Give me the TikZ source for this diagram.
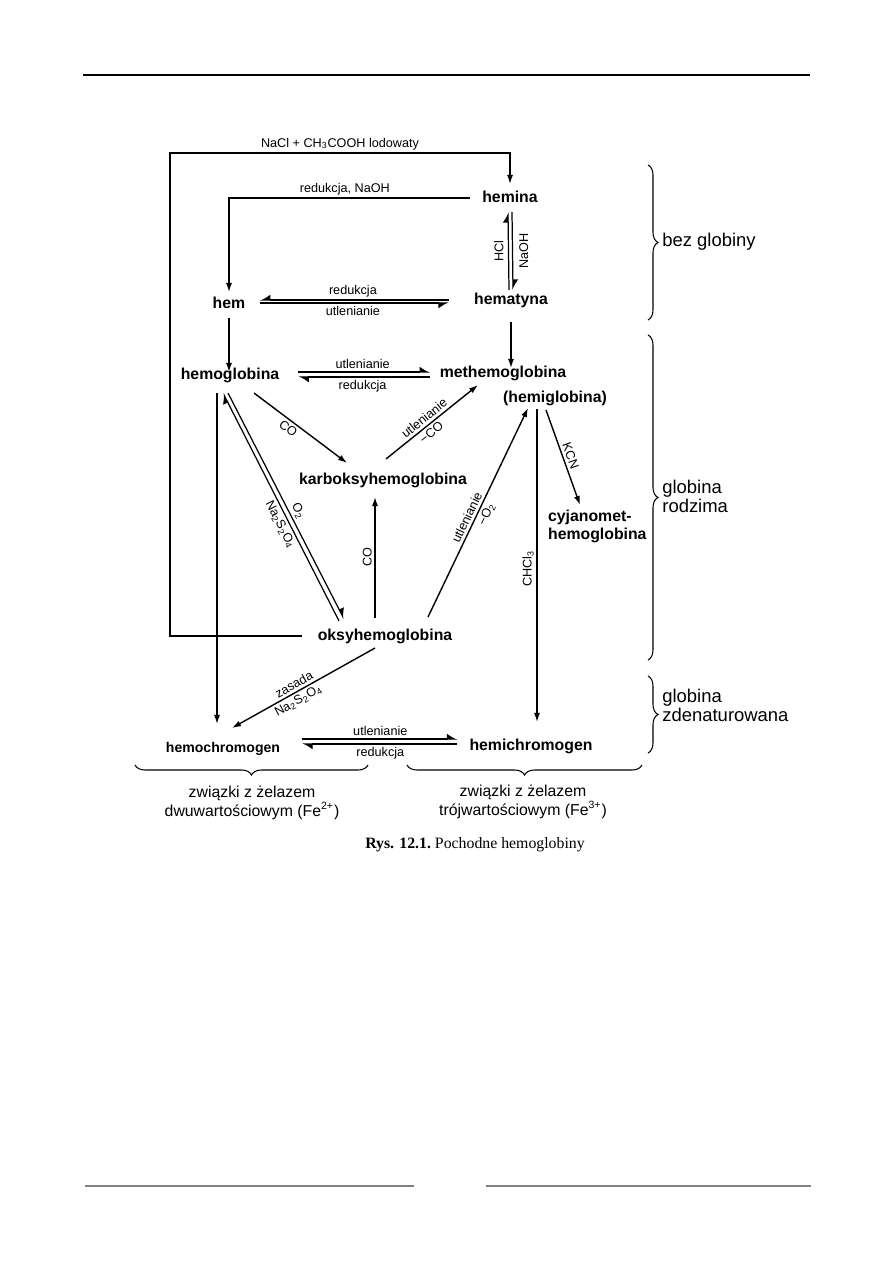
\documentclass[tikz,border=0pt]{standalone}
\usepackage{fontspec}
\setmainfont{Liberation Sans}
\newfontfamily\captionserif{Liberation Serif}
\usetikzlibrary{arrows.meta, decorations.pathreplacing}

\begin{document}
\begin{tikzpicture}[
  x=0.02cm, y=-0.02cm,
  every node/.style={font=\fontsize{7.2}{8}\selectfont},
  chem/.style={font=\fontsize{9}{10}\selectfont\bfseries, inner sep=1pt, text height=7pt, text depth=2pt},
  chemtwo/.style={font=\fontsize{9}{10.2}\selectfont\bfseries, inner sep=1pt, align=left},
  lab/.style={inner sep=1.5pt},
  grouplab/.style={font=\fontsize{10.5}{8}\selectfont, align=left, anchor=west, inner sep=0pt},
  bottomlab/.style={font=\fontsize{9}{9.6}\selectfont, align=center, inner sep=0pt},
  arrow/.style={-{Latex[length=1.8mm, width=1.2mm]}, line width=0.8pt},
  harp/.style={-{Latex[harpoon, length=1.8mm, width=2.2mm]}, line width=0.7pt},
  harpsw/.style={-{Latex[harpoon, swap, length=1.8mm, width=2.2mm]}, line width=0.7pt},
  bracedown/.style={decorate, decoration={brace, mirror, amplitude=2mm}, line width=0.6pt},
  braceright/.style={decorate, decoration={brace, amplitude=2mm}, line width=0.6pt}
]
  \useasboundingbox (0,0) rectangle (893,1263);

  % page rules
  \draw[line width=0.7pt] (83,75) -- (810,75);
  \draw[gray, line width=0.6pt] (85,1186) -- (414,1186);
  \draw[gray, line width=0.6pt] (486,1186) -- (811,1186);

  % without globin
  \node[chem] (hemina) at (510,198) {hemina};
  \node[chem] (hem) at (229,304) {hem};
  \node[chem] (hematyna) at (511,300) {hematyna};

  % native globin
  \node[chem] (hemoglobina) at (230,375) {hemoglobina};
  \node[chem] (methemo) at (503,373) {methemoglobina};
  \node[chem] (hemiglobina) at (555,398) {(hemiglobina)};
  \node[chem] (karboksy) at (383,480) {karboksyhemoglobina};
  \node[chem] (oksy) at (385,636) {oksyhemoglobina};
  \node[chemtwo, anchor=north west] (cyjano) at (546,508) {cyjanomet-\\hemoglobina};

  % denatured globin
  \node[chem, font=\fontsize{8}{9}\selectfont\bfseries] (hemochrom) at (223,748) {hemochromogen};
  \node[chem] (hemichrom) at (531,746) {hemichromogen};

  % Outer loop
  \coordinate (loopcorner) at (170,153);
  \draw[arrow] ([shift={(-14,0)}]oksy.west) -| (loopcorner) -| node[pos=0.25, above, lab] {NaCl + CH\textsubscript{3}COOH lodowaty} ([shift={(0,-4)}]hemina.north);

  % hemina -> hem
  \draw[arrow] ([shift={(-10,0)}]hemina.west) -| node[pos=0.26, above, lab] {redukcja, NaOH} ([shift={(0,-2)}]hem.north);

  % hemina <-> hematyna
  \draw[harp] ([shift={(-2,0)}]hematyna.north) -- node[midway, anchor=south, rotate=90, lab, inner sep=2.5pt] {HCl} ([shift={(-2,4)}]hemina.south);
  \draw[harp] ([shift={(2,4)}]hemina.south) -- node[midway, anchor=north, rotate=90, lab, inner sep=3.5pt] {NaOH} ([shift={(2,0)}]hematyna.north);

  % hem <-> hematyna
  \draw[harpsw, shorten <=4.6mm, shorten >=2.5mm] (hematyna.west) -- node[pos=0.53, above, lab] {redukcja} ([shift={(0,-4)}]hem.east);
  \draw[harpsw, shorten <=2.5mm, shorten >=4.6mm] ([shift={(0,-1)}]hem.east) -- node[pos=0.47, below, lab] {utlenianie} ([shift={(0,3)}]hematyna.west);

  % down to the globin level
  \draw[arrow, shorten <=2.4mm, shorten >=-1mm] (hematyna.south) -- (hematyna.south |- methemo.north);
  \draw[arrow, shorten <=0.8mm, shorten >=-1.4mm] (hem.south) -- (hem.south |- hemoglobina.north);

  % hemoglobina <-> methemoglobina
  \draw[harp, shorten <=3.4mm, shorten >=1.5mm] ([shift={(0,-3)}]hemoglobina.east) -- node[pos=0.52, above, lab] {utlenianie} ([shift={(0,-1)}]methemo.west);
  \draw[harp, shorten <=1.5mm, shorten >=3.4mm] ([shift={(0,4)}]methemo.west) -- node[pos=0.48, below, lab] {redukcja} ([shift={(0,2)}]hemoglobina.east);

  % carbon monoxide
  \draw[arrow] ([shift={(24,8)}]hemoglobina.south) -- node[pos=0.42, sloped, below, lab] {CO} ([shift={(-36,-7)}]karboksy.north);
  \draw[arrow] ([shift={(3,-11)}]karboksy.north) -- node[pos=0.47, sloped, above, lab] {utlenianie} node[pos=0.44, sloped, below, lab] {−CO} ([shift={(-25,2)}]methemo.south);
  \draw[arrow] ([shift={(-10,-8)}]oksy.north) -- node[midway, anchor=south, rotate=90, lab] {CO} ([shift={(-8,7)}]karboksy.south);

  % hemoglobina <-> oksyhemoglobina
  \draw[harp] ([shift={(-46,-5)}]oksy.north) -- node[pos=0.44, sloped, below, lab] {Na\textsubscript{2}S\textsubscript{2}O\textsubscript{4}} ([shift={(-7,8)}]hemoglobina.south);
  \draw[harp] ([shift={(-2,8)}]hemoglobina.south) -- node[pos=0.54, sloped, above, lab] {O\textsubscript{2}} ([shift={(-41,-7)}]oksy.north);

  % oksyhemoglobina -> methemoglobina
  \draw[arrow] ([shift={(43,-9)}]oksy.north) -- node[pos=0.46, sloped, above, lab] {utlenianie} node[pos=0.51, sloped, below, lab] {−O\textsubscript{2}} ([shift={(-27,0)}]hemiglobina.south);

  % methemoglobina -> cyanide, chloroform
  \draw[arrow] ([shift={(-9,2)}]hemiglobina.south) -- node[pos=0.51, sloped, above, lab] {KCN} ([shift={(34,-3)}]cyjano.north west);
  \draw[arrow] ([shift={(-18,1)}]hemiglobina.south) -- node[pos=0.51, anchor=south, rotate=90, lab] {CHCl\textsubscript{3}} ([shift={(6,-14)}]hemichrom.north);

  % to the chromogens
  \draw[arrow] ([shift={(-13,8)}]hemoglobina.south) -- ([shift={(-6,-14)}]hemochrom.north);
  \draw[arrow] ([shift={(-10,2)}]oksy.south) -- node[pos=0.54, sloped, above, lab] {zasada} node[pos=0.565, sloped, below, lab] {Na\textsubscript{2}S\textsubscript{2}O\textsubscript{4}} ([shift={(9,-10)}]hemochrom.north);

  % hemochromogen <-> hemichromogen
  \draw[harp, shorten <=4mm, shorten >=2mm] ([shift={(0,-9)}]hemochrom.east) -- node[pos=0.53, above, lab] {utlenianie} ([shift={(0,-7)}]hemichrom.west);
  \draw[harp, shorten <=2mm, shorten >=4mm] ([shift={(0,-2)}]hemichrom.west) -- node[pos=0.47, below, lab] {redukcja} ([shift={(0,-4)}]hemochrom.east);

  % Braces
  \draw[braceright] (648,165) -- (648,320);
  \draw[braceright] (648,335) -- (648,660);
  \draw[braceright] (648,676) -- (648,753);
  \draw[bracedown] (135,765) -- (368,765);
  \draw[bracedown] (407,765) -- (642,765);

  \node[grouplab] (bezglob) at (662,242) {bez globiny};
  \node[grouplab] (rodzima) at (662,496) {globina\\rodzima};
  \node[grouplab] (zdenat) at (662,705) {globina\\zdenaturowana};

  \node[bottomlab] (fedwa) at (252,803) {związki z żelazem\\dwuwartościowym (Fe\textsuperscript{2+})};
  \node[bottomlab] (fetrzy) at (523,802) {związki z żelazem\\trójwartościowym (Fe\textsuperscript{3+})};

  % Caption
  \node[font=\captionserif\fontsize{9}{10}\selectfont] (caption) at (475,845) {\textbf{Rys. 12.1.}\ Pochodne hemoglobiny};
\end{tikzpicture}
\end{document}
